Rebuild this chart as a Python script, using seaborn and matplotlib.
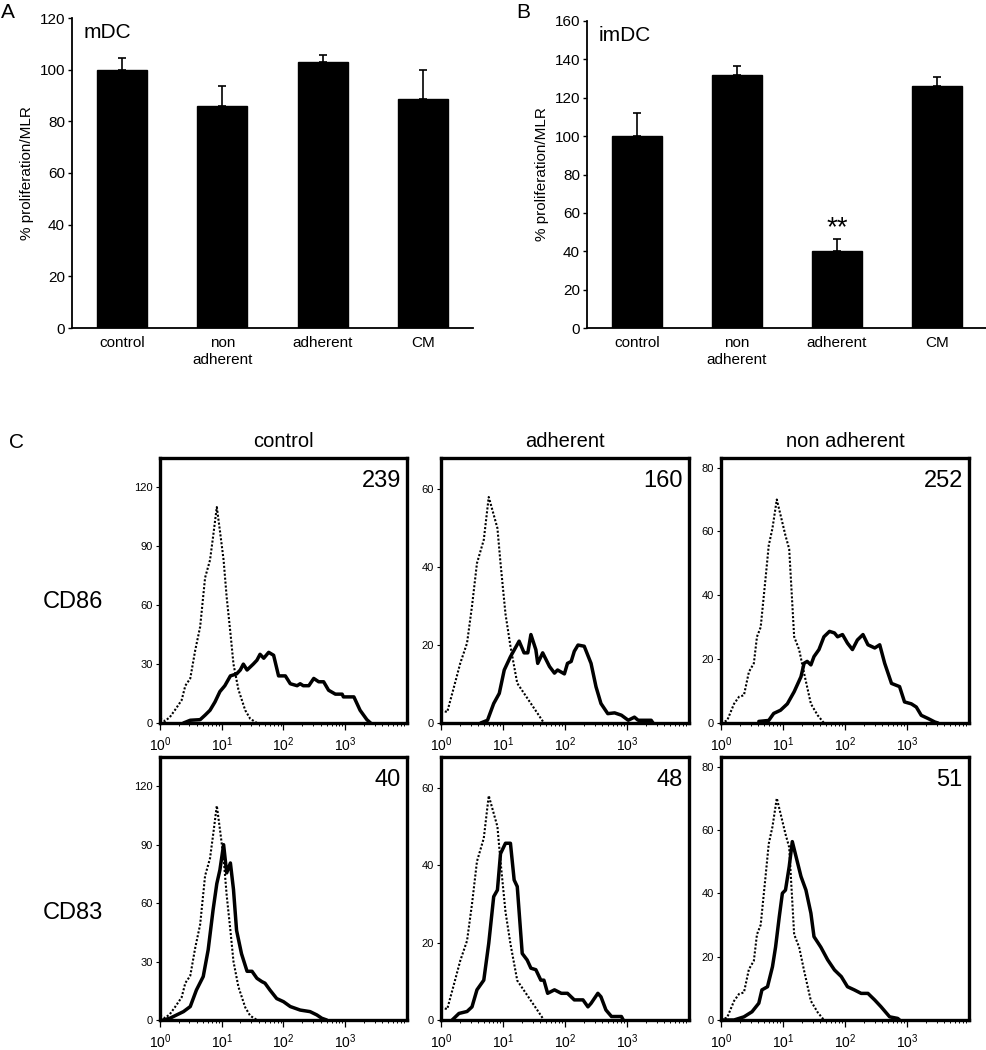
import numpy as np
import pandas as pd
import matplotlib
matplotlib.use("Agg")
import matplotlib.pyplot as plt
import seaborn as sns

sns.set_theme(style="ticks")
plt.rcParams['font.family'] = ['Liberation Sans', 'DejaVu Sans']
plt.rcParams['mathtext.fontset'] = 'custom'
plt.rcParams['mathtext.rm'] = 'Liberation Sans'
for k in ['text.color', 'axes.labelcolor', 'xtick.color', 'ytick.color', 'axes.edgecolor']:
    plt.rcParams[k] = 'black'

# ---------------- Data: bar panels ----------------
categories = ["control", "non\nadherent", "adherent", "CM"]
mdc_values = [100, 86, 102.8, 88.8]
mdc_err = [4.5, 7.5, 2.8, 11.2]
imdc_values = [100, 132, 40, 126]
imdc_err = [12, 4.8, 6.6, 4.6]

# ---------------- Data: flow histograms (x = log10 fluorescence) ----------------
col_titles = ["control", "adherent", "non adherent"]
row_titles = ["CD86", "CD83"]
mfi_labels = [["239", "160", "252"], ["40", "48", "51"]]

iso_ctrl_x = [0, 0.08, 0.16, 0.24, 0.35, 0.41, 0.49, 0.57, 0.65, 0.73, 0.81, 0.86, 0.92,
              0.97, 1.03, 1.08, 1.14, 1.19, 1.27, 1.38, 1.46, 1.57]
iso_ctrl_y = [2.2, 1, 3, 6.5, 11.6, 19, 22.7, 37, 49, 74, 83, 95, 110,
              98, 83, 64, 46, 30, 17, 6.5, 2.2, 0]
iso_adh_x = [0, 0.1, 0.21, 0.31, 0.42, 0.5, 0.58, 0.69, 0.77, 0.91, 0.96, 1.04, 1.12,
             1.23, 1.34, 1.45, 1.56, 1.66]
iso_adh_y = [3.3, 2.8, 9.3, 15.3, 20.5, 30, 41, 47, 58, 50, 41, 28, 19.7,
             10.2, 7.6, 5, 2.4, 0]
iso_non_x = [0, 0.1, 0.21, 0.29, 0.37, 0.45, 0.53, 0.58, 0.64, 0.72, 0.77, 0.83, 0.9,
             1.04, 1.1, 1.18, 1.26, 1.34, 1.45, 1.56, 1.66]
iso_non_y = [0, 0.8, 6, 8.2, 8.7, 16, 18.7, 27, 30, 45.6, 55.6, 61, 70,
             58.7, 54.5, 27, 23, 15.6, 6, 2.4, 0]

cd86_ctrl_x = [0.38, 0.49, 0.65, 0.73, 0.81, 0.89, 0.97, 1.05, 1.14, 1.24, 1.30, 1.35, 1.41,
               1.51, 1.57, 1.62, 1.68, 1.76, 1.84, 1.92, 2.03, 2.11, 2.22, 2.27, 2.32, 2.41,
               2.49, 2.57, 2.65, 2.73, 2.84, 2.95, 2.97, 3.14, 3.24, 3.35, 3.41]
cd86_ctrl_y = [0, 1.4, 1.7, 4, 6.5, 10.7, 16, 19, 24, 25, 27, 30, 27,
               30, 32, 35, 33, 36, 34.5, 24, 24, 20, 19, 20, 19, 19,
               22.7, 21, 21, 16.7, 14.7, 14.7, 13.3, 13.3, 6.5, 1.7, 0]
cd86_adh_x = [0.64, 0.75, 0.85, 0.94, 1.02, 1.12, 1.26, 1.34, 1.40, 1.45, 1.53, 1.56, 1.64,
              1.75, 1.83, 1.88, 1.99, 2.04, 2.10, 2.15, 2.21, 2.31, 2.42, 2.50, 2.58, 2.69,
              2.80, 2.91, 3.02, 3.12, 3.18, 3.39, 3.42]
cd86_adh_y = [0, 0.7, 5, 7.6, 13.6, 17, 21, 18, 18, 22.7, 18.8, 15.3, 18,
              14.5, 12.8, 13.6, 12.6, 15.3, 15.8, 18.4, 20, 19.7, 15.3, 9.3, 5, 2.4,
              2.6, 2, 0.7, 1.5, 0.7, 0.7, 0]
cd86_non_x = [0.61, 0.77, 0.85, 0.96, 1.07, 1.18, 1.29, 1.34, 1.39, 1.45, 1.50, 1.58, 1.66,
              1.75, 1.83, 1.88, 1.96, 2.04, 2.12, 2.20, 2.29, 2.37, 2.48, 2.56, 2.64, 2.75,
              2.88, 2.96, 3.07, 3.15, 3.23, 3.34, 3.45, 3.50]
cd86_non_y = [0.5, 0.8, 3, 4, 6, 9.8, 14.5, 18.7, 19.3, 18.2, 20.8, 23, 27,
              28.7, 28.2, 27, 27.7, 25, 23, 26, 27.7, 24.5, 23.5, 24.5, 18.7, 12.4,
              11.4, 6.6, 6, 5, 2.4, 1.4, 0.3, 0]

cd83_ctrl_x = [0.05, 0.16, 0.27, 0.38, 0.49, 0.59, 0.70, 0.78, 0.86, 0.92, 0.97, 1.03, 1.08,
               1.14, 1.19, 1.24, 1.32, 1.41, 1.49, 1.57, 1.65, 1.70, 1.78, 1.89, 2.00, 2.11,
               2.27, 2.43, 2.54, 2.62, 2.70]
cd83_ctrl_y = [0, 0.9, 2.6, 4.3, 6.9, 15.4, 22.3, 36, 56.6, 70, 77, 90, 75.5,
               80.6, 67, 46, 34, 25, 25, 21.4, 19.7, 18.9, 15.4, 11, 9.4, 6.9,
               5.1, 4.3, 2.6, 0.9, 0]
cd83_adh_x = [0.18, 0.29, 0.42, 0.50, 0.58, 0.69, 0.77, 0.85, 0.91, 0.96, 1.04, 1.12, 1.18,
              1.23, 1.31, 1.39, 1.45, 1.53, 1.61, 1.66, 1.72, 1.83, 1.94, 2.04, 2.15, 2.29,
              2.37, 2.42, 2.53, 2.58, 2.66, 2.75, 2.91, 2.94]
cd83_adh_y = [0, 1.7, 2.2, 3.4, 7.8, 10.3, 19.8, 31.9, 33.6, 43, 45.7, 45.7, 36.2,
              34.5, 17.2, 15.5, 13.4, 13, 10.3, 10.3, 6.9, 7.8, 6.9, 6.9, 5.2, 5.2,
              3.4, 4.3, 6.9, 6, 2.6, 0.9, 0.9, 0]
cd83_non_x = [0.02, 0.21, 0.37, 0.50, 0.61, 0.66, 0.75, 0.83, 0.88, 0.94, 0.99, 1.04, 1.10,
              1.15, 1.21, 1.29, 1.37, 1.45, 1.50, 1.61, 1.72, 1.83, 1.94, 2.04, 2.15, 2.26,
              2.37, 2.48, 2.58, 2.72, 2.85, 2.88]
cd83_non_y = [0, 0, 1, 2.6, 5.3, 9.5, 10.5, 16.8, 23, 32.6, 40, 41, 48.4,
              56.3, 51.6, 45.3, 41, 33.7, 26.3, 23, 19, 15.8, 13.7, 10.5, 9.5, 8.4,
              8.4, 6.3, 4.2, 1, 0.5, 0]

iso_x = [iso_ctrl_x, iso_adh_x, iso_non_x]
iso_y = [iso_ctrl_y, iso_adh_y, iso_non_y]
stain_x = [[cd86_ctrl_x, cd86_adh_x, cd86_non_x], [cd83_ctrl_x, cd83_adh_x, cd83_non_x]]
stain_y = [[cd86_ctrl_y, cd86_adh_y, cd86_non_y], [cd83_ctrl_y, cd83_adh_y, cd83_non_y]]
ylims = [135, 68, 83]
yticks = [[0, 30, 60, 90, 120], [0, 20, 40, 60], [0, 20, 40, 60, 80]]

# ---------------- Figure ----------------
W, H = 987, 1050
fig = plt.figure(figsize=(W / 100, H / 100), dpi=100)


def px_axes(left, top, right, bottom):
    return fig.add_axes([left / W, 1 - bottom / H, (right - left) / W, (bottom - top) / H])


def bar_panel(ax, values, errs, ymax, step, title):
    df = pd.DataFrame({"cat": categories, "val": values})
    sns.barplot(data=df, x="cat", y="val", color="black", width=0.5, ax=ax,
                edgecolor="black", saturation=1)
    ax.errorbar(range(len(values)), values, yerr=[np.zeros(len(errs)), errs], fmt="none",
                ecolor="black", elinewidth=1.2, capsize=3, capthick=1.2)
    ax.set_xlim(-0.5, 3.5)
    ax.set_ylim(0, ymax)
    ax.set_yticks(np.arange(0, ymax + 1, step))
    ax.set_xlabel("")
    ax.set_ylabel("% proliferation/MLR", fontsize=11, labelpad=4)
    ax.tick_params(axis="y", labelsize=11, length=3, width=1, pad=2, colors="black")
    ax.tick_params(axis="x", labelsize=11, length=0, pad=6)
    for s in ["top", "right"]:
        ax.spines[s].set_visible(False)
    for s in ["left", "bottom"]:
        ax.spines[s].set_linewidth(1.3)
        ax.spines[s].set_color("black")
    ax.text(0.03, 0.985, title, transform=ax.transAxes, fontsize=15, va="top", ha="left")


axA = px_axes(72, 18, 473, 328)
bar_panel(axA, mdc_values, mdc_err, 120, 20, "mDC")
axB = px_axes(587, 21, 987, 328)
bar_panel(axB, imdc_values, imdc_err, 160, 20, "imDC")
axB.text(2, imdc_values[2] + imdc_err[2] - 1.5, "**", ha="center", va="bottom", fontsize=20)

fig.text(8 / W, 1 - 13 / H, "A", fontsize=15, ha="center", va="center")
fig.text(523 / W, 1 - 13 / H, "B", fontsize=15, ha="center", va="center")
fig.text(16 / W, 1 - 442 / H, "C", fontsize=15, ha="center", va="center")

col_lr = [(160, 407), (441, 689), (721, 969)]
row_tb = [(458, 723), (757, 1020)]
row_label_y = [602, 913]

for r in range(2):
    for c in range(3):
        l, rr = col_lr[c]
        t, b = row_tb[r]
        ax = px_axes(l, t, rr, b)
        dfi = pd.DataFrame({"x": np.power(10.0, iso_x[c]), "y": iso_y[c]})
        dfs = pd.DataFrame({"x": np.power(10.0, stain_x[r][c]), "y": stain_y[r][c]})
        sns.lineplot(data=dfi, x="x", y="y", ax=ax, color="black", linestyle=(0, (1.0, 0.9)),
                     linewidth=1.5, sort=False, estimator=None)
        sns.lineplot(data=dfs, x="x", y="y", ax=ax, color="black", linewidth=2.5,
                     sort=False, estimator=None)
        ax.set_xscale("log")
        ax.set_xlim(1, 1e4)
        ax.set_ylim(0, ylims[c])
        ax.set_yticks(yticks[c])
        ax.set_xticks([1, 10, 100, 1000])
        ax.set_xticklabels([r"$10^{0}$", r"$10^{1}$", r"$10^{2}$", r"$10^{3}$"])
        ax.xaxis.set_minor_locator(matplotlib.ticker.LogLocator(base=10, subs=np.arange(2, 10), numticks=20))
        ax.xaxis.set_minor_formatter(matplotlib.ticker.NullFormatter())
        ax.set_xlabel("")
        ax.set_ylabel("")
        ax.tick_params(axis="y", labelsize=8, length=3, width=0.8, pad=2, colors="black")
        ax.tick_params(axis="x", which="major", labelsize=10, length=5, width=0.9, pad=4, colors="black")
        ax.tick_params(axis="x", which="minor", length=2.5, width=0.7, colors="black")
        for s in ax.spines.values():
            s.set_linewidth(2.4)
            s.set_color("black")
        ax.text(0.975, 0.955, mfi_labels[r][c], transform=ax.transAxes, fontsize=17,
                ha="right", va="top")
        if r == 0:
            ax.set_title(col_titles[c], fontsize=14.5, pad=8)
    fig.text(73 / W, 1 - row_label_y[r] / H, row_titles[r], fontsize=17, ha="center", va="center")

fig.savefig("out.png", dpi=100)
